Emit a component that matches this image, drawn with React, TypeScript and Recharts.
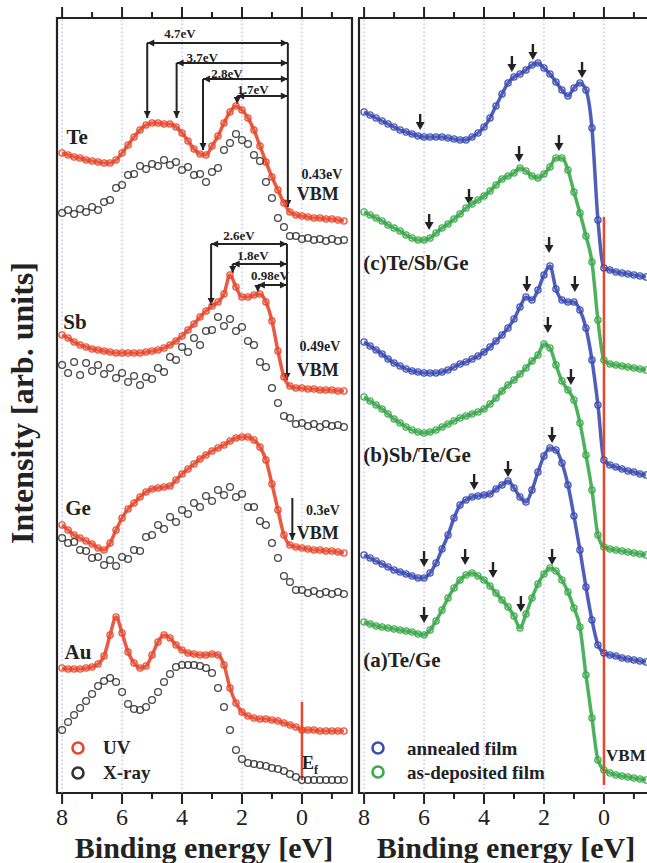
import {
  Legend,
  Line,
  LineChart,
  ReferenceArea,
  ReferenceDot,
  ReferenceLine,
  XAxis,
  YAxis,
} from 'recharts'

// binding energy grid (eV), shared by every spectrum
const ENERGY = [
  8, 7.8, 7.6, 7.4, 7.2, 7, 6.8, 6.6, 6.4, 6.2, 6, 5.8, 5.6, 5.4, 5.2, 5, 4.8, 4.6, 4.4, 4.2, 4, 3.8, 3.6, 3.4,
  3.2, 3, 2.8, 2.6, 2.4, 2.2, 2, 1.8, 1.6, 1.4, 1.2, 1, 0.8, 0.6, 0.4, 0.2, 0, -0.2, -0.4, -0.6, -0.8, -1, -1.2, -1.4,
]
const TICKS = [8, 7, 6, 5, 4, 3, 2, 1, 0, -1]
const GRID_E = [8, 6, 4, 2, 0]

// left panel: elemental references (intensity, arb. units, offset per element)
const TE_UV = [640,638,636,635,633,632,631,630,630,633,640,648,656,663,668,670,670,669,669,666,660,652,644,639,638,647,657,670,681,687,683,675,663,647,631,616,603,590,581,578,577,576,575,575,574,574,573,572]
const TE_XRAY = [580,583,579,584,581,586,583,591,593,605,608,618,619,627,624,629,627,633,628,631,623,626,618,619,611,621,625,643,650,659,653,649,638,632,611,595,575,566,557,557,554,555,553,554,552,554,552,553]
const SB_UV = [458,455,451,448,446,444,443,442,441,440,440,440,440,440,441,442,443,445,448,452,457,463,469,476,482,487,491,499,518,506,496,496,498,499,491,472,442,416,407,405,405,404,404,403,403,403,402,402]
const SB_XRAY = [428,420,431,418,430,422,428,419,425,415,420,411,417,408,416,414,425,421,436,433,446,441,455,448,462,463,476,467,474,462,466,452,448,431,426,405,390,377,375,369,370,367,369,366,369,367,368,366]
const GE_UV = [268,263,258,255,252,249,245,243,250,263,275,284,290,296,301,304,305,306,307,313,319,324,329,334,338,342,345,348,352,355,356,356,353,346,333,309,283,258,248,246,245,244,243,243,242,242,241,240]
const GE_XRAY = [255,250,251,243,242,235,236,228,233,227,236,234,243,242,256,258,268,264,276,271,283,279,290,286,297,292,303,298,306,296,299,286,286,272,268,250,235,217,211,203,203,200,202,199,201,199,201,199]
const AU_UV = [125,124,124,124,125,126,129,137,158,176,160,141,130,125,127,138,151,158,155,148,143,140,139,138,138,139,138,128,105,90,81,77,75,74,74,73,72,70,68,66,63,63,63,62,62,62,62,62]
const AU_XRAY = [63,71,78,85,92,99,107,112,115,111,101,89,84,83,86,93,101,111,119,126,128,128,128,127,125,120,105,86,63,43,34,30,29,28,27,25,24,22,19,16,13,13,13,13,13,13,13,13]

// right panel: stacked films, annealed vs as-deposited
const C_ANNEALED = [681,678,675,672,669,666,663,661,659,657,656,656,656,656,655,654,653,653,656,660,666,675,687,699,710,716,719,723,728,730,725,719,711,703,697,705,710,703,665,573,525,523,521,520,519,518,517,516]
const C_DEPOSITED = [581,578,575,572,568,565,562,558,555,553,553,555,560,565,569,574,579,585,589,593,597,602,608,614,617,620,625,622,617,615,619,626,635,635,623,601,580,557,531,473,433,429,428,427,426,425,424,423]
const B_ANNEALED = [451,447,443,439,434,430,427,424,422,421,420,420,420,421,423,426,429,431,434,437,441,446,452,458,465,474,486,496,493,503,518,527,504,493,491,491,483,465,433,388,333,328,326,324,322,321,319,318]
const B_DEPOSITED = [396,392,388,384,379,374,370,366,363,361,360,361,363,366,369,372,375,377,379,381,384,389,395,402,408,413,419,425,432,438,449,445,428,412,403,393,370,338,303,258,246,244,243,242,241,240,239,238]
const A_ANNEALED = [238,235,232,229,226,223,221,219,217,215,215,220,230,244,258,275,288,293,296,297,298,299,304,308,312,305,296,291,303,321,337,345,343,330,308,277,243,206,173,148,140,138,137,135,134,133,132,131]
const A_DEPOSITED = [171,169,167,166,165,164,163,162,161,159,158,163,172,183,195,205,213,218,220,217,213,207,200,193,186,177,165,179,195,209,219,225,222,213,201,185,166,118,75,33,23,20,18,17,16,15,14,13]

// annotations
const ELEMENT_NAMES = ['Te', 'Sb', 'Ge', 'Au']
const ELEMENT_TAG_E = [7.5, 7.57, 7.47, 7.47]
const ELEMENT_TAG_I = [656, 471, 285, 141]
const VBM_SHIFTS = ['0.43eV', '0.49eV', '0.3eV']
const VBM_SHIFT_E = [-0.67, -0.6, -0.7]
const VBM_SHIFT_I = [619, 447, 283]
const VBM_WORD_I = [599, 423, 260]

const TE_GAP_LABELS = ['4.7eV', '3.7eV', '2.8eV', '1.7eV']
const TE_GAP_FROM = [5.16, 4.18, 3.3, 2.16]
const TE_GAP_BAR = [750, 730, 714, 697]
const TE_GAP_TIP = [675, 675, 643, 689]
const TE_GAP_LABEL_E = [4.07, 3.33, 2.5, 1.63]
const TE_GAP_LABEL_I = [760, 736, 720, 704]
const TE_VBM = { e: 0.47, tip: 586 }

const SB_GAP_LABELS = ['2.6eV', '1.8eV', '0.98eV']
const SB_GAP_FROM = [3.03, 2.31, 1.47]
const SB_GAP_BAR = [549, 529, 508]
const SB_GAP_TIP = [488, 520, 501]
const SB_GAP_LABEL_E = [2.1, 1.63, 1.07]
const SB_GAP_LABEL_I = [558, 538, 518]
const SB_VBM = { e: 0.5, tip: 413 }
const GE_VBM = { e: 0.32, top: 295, tip: 253 }

const PANEL_TAGS = ['(c)Te/Sb/Ge', '(b)Sb/Te/Ge', '(a)Te/Ge']
const PANEL_TAG_I = [530, 338, 133]
const PEAK_ARROW_E = [6.13, 3.07, 2.37, 0.73, 5.83, 4.5, 2.83, 1.5, 2.57, 1.83, 0.97, 1.87, 1.1, 1.73, 4.33, 3.2, 6.0, 6.0, 4.63, 3.7, 2.77, 1.73]
const PEAK_ARROW_I = [663, 721, 733, 715, 563, 588, 631, 642, 501, 540, 501, 460, 408, 350, 303, 316, 226, 170, 228, 215, 181, 228]

const DOMAIN: [number, number] = [-1.67, 8.17]
const I_MAX = 775

const SERIF = '"Liberation Serif", "Times New Roman", serif'
const INK = '#222'
const RED = '#e8472c'
const GREY = '#333'
const BLUE = '#3b4db3'
const GREEN = '#3ba84a'
const GRID = '#a5a5dc'

const LEGEND_COLOR: Record<string, string> = {
  UV: RED,
  'X-ray': GREY,
  'annealed film': BLUE,
  'as-deposited film': GREEN,
}

const leftData = ENERGY.map((e, i) => ({
  e,
  teUV: TE_UV[i],
  teX: TE_XRAY[i],
  sbUV: SB_UV[i],
  sbX: SB_XRAY[i],
  geUV: GE_UV[i],
  geX: GE_XRAY[i],
  auUV: AU_UV[i],
  auX: AU_XRAY[i],
}))

const rightData = ENERGY.map((e, i) => ({
  e,
  cA: C_ANNEALED[i],
  cD: C_DEPOSITED[i],
  bA: B_ANNEALED[i],
  bD: B_DEPOSITED[i],
  aA: A_ANNEALED[i],
  aD: A_DEPOSITED[i],
}))

function EnergyTick({ x, y, payload, side }: any) {
  const v = payload.value
  const major = v >= 0 && v % 2 === 0
  const len = major ? 11 : 6
  if (side === 'top') {
    return <line x1={x} x2={x} y1={y} y2={y - len} stroke={INK} strokeWidth={2} />
  }
  return (
    <g>
      <line x1={x} x2={x} y1={y} y2={y + len} stroke={INK} strokeWidth={2} />
      {major && (
        <text x={x} y={y + 32} textAnchor="middle" fontSize={24} fontFamily={SERIF} fill={INK}>
          {v}
        </text>
      )}
    </g>
  )
}

function Tag({ cx, cy, text, size, anchor = 'middle' }: any) {
  if (cx == null || cy == null) return null
  return (
    <text
      x={cx}
      y={cy}
      dy="0.35em"
      textAnchor={anchor}
      fontSize={size}
      fontWeight="bold"
      fontFamily={SERIF}
      fill={INK}
    >
      {text}
    </text>
  )
}

function headPath(x: number, y: number, ang: number, len = 7, half = 3.5) {
  const bx = x - len * Math.cos(ang)
  const by = y - len * Math.sin(ang)
  const px = -Math.sin(ang) * half
  const py = Math.cos(ang) * half
  return `M${x},${y} L${bx + px},${by + py} L${bx - px},${by - py} Z`
}

function DimArrow({ x1, y1, x2, y2, both }: any) {
  if ([x1, y1, x2, y2].some((v) => v == null || Number.isNaN(v))) return null
  const ang = Math.atan2(y2 - y1, x2 - x1)
  return (
    <g>
      <line x1={x1} y1={y1} x2={x2} y2={y2} stroke={INK} strokeWidth={2} />
      <path d={headPath(x2, y2, ang)} fill={INK} />
      {both && <path d={headPath(x1, y1, ang + Math.PI)} fill={INK} />}
    </g>
  )
}

function DownArrow({ cx, cy }: any) {
  if (cx == null || cy == null) return null
  return (
    <g>
      <line x1={cx} x2={cx} y1={cy - 16} y2={cy - 6} stroke={INK} strokeWidth={2.4} />
      <path d={`M${cx - 4.5},${cy - 8} L${cx + 4.5},${cy - 8} L${cx},${cy} Z`} fill={INK} />
    </g>
  )
}

function SeriesLegend({ payload, rowHeight, markerWidth }: any) {
  const seen = new Set<string>()
  const items = (payload ?? []).filter((p: any) => {
    if (p.type === 'none' || seen.has(p.value)) return false
    seen.add(p.value)
    return true
  })
  return (
    <div style={{ fontFamily: SERIF, fontWeight: 'bold', fontSize: 19, color: INK }}>
      {items.map((entry: any) => (
        <div key={entry.value} style={{ display: 'flex', alignItems: 'center', height: rowHeight }}>
          <svg width={markerWidth} height={16}>
            <circle cx={8} cy={8} r={5.5} fill="none" stroke={LEGEND_COLOR[entry.value]} strokeWidth={2.6} />
          </svg>
          <span style={{ lineHeight: 1 }}>{entry.value}</span>
        </div>
      ))}
    </div>
  )
}

function spectrum(key: string, color: string, opts: { name?: string; sparse?: boolean; legend?: boolean }) {
  return (
    <Line
      key={key}
      dataKey={key}
      name={opts.name ?? key}
      type="monotone"
      stroke={opts.sparse ? 'transparent' : color}
      strokeWidth={3.5}
      strokeOpacity={0.9}
      dot={{ r: opts.sparse ? 3.4 : 3.1, stroke: color, strokeWidth: opts.sparse ? 1.3 : 1.4, fill: 'none' }}
      activeDot={false}
      legendType={opts.legend ? 'circle' : 'none'}
      isAnimationActive={false}
    />
  )
}

function axes() {
  return [
    <XAxis
      key="xb"
      dataKey="e"
      type="number"
      domain={DOMAIN}
      reversed
      allowDataOverflow
      ticks={TICKS}
      interval={0}
      height={70}
      axisLine={false}
      tickLine={false}
      tickSize={0}
      tickMargin={0}
      tick={(p: any) => <EnergyTick {...p} side="bottom" />}
    />,
    <XAxis
      key="xt"
      xAxisId="top"
      orientation="top"
      dataKey="e"
      type="number"
      domain={DOMAIN}
      reversed
      allowDataOverflow
      ticks={TICKS}
      interval={0}
      height={10}
      axisLine={false}
      tickLine={false}
      tickSize={0}
      tickMargin={0}
      tick={(p: any) => <EnergyTick {...p} side="top" />}
    />,
    <YAxis key="y" hide type="number" domain={[0, I_MAX]} allowDataOverflow />,
    ...GRID_E.map((g) => (
      <ReferenceLine key={`g${g}`} x={g} stroke={GRID} strokeWidth={1} strokeDasharray="1.5 2.5" />
    )),
    <ReferenceArea
      key="frame"
      x1={DOMAIN[0]}
      x2={DOMAIN[1]}
      y1={0}
      y2={I_MAX}
      fill="none"
      fillOpacity={0}
      stroke={INK}
      strokeWidth={2.2}
    />,
  ]
}

function tag(key: string, text: string, e: number, i: number, size: number, anchor = 'middle') {
  return (
    <ReferenceDot
      key={key}
      x={e}
      y={i}
      r={1}
      ifOverflow="visible"
      shape={(p: any) => <Tag {...p} text={text} size={size} anchor={anchor} />}
    />
  )
}

function dim(key: string, from: [number, number], to: [number, number], both = false) {
  return (
    <ReferenceLine
      key={key}
      segment={[
        { x: from[0], y: from[1] },
        { x: to[0], y: to[1] },
      ]}
      ifOverflow="visible"
      shape={(p: any) => <DimArrow {...p} both={both} />}
    />
  )
}

const CHART_MARGIN = { top: 8, right: 8, bottom: 0, left: 57 }

function ElementPanel() {
  return (
    <LineChart width={360} height={863} data={leftData} margin={CHART_MARGIN}>
      {axes()}
      {spectrum('teUV', RED, { name: 'UV', legend: true })}
      {spectrum('teX', GREY, { name: 'X-ray', sparse: true, legend: true })}
      {spectrum('sbUV', RED, {})}
      {spectrum('sbX', GREY, { sparse: true })}
      {spectrum('geUV', RED, {})}
      {spectrum('geX', GREY, { sparse: true })}
      {spectrum('auUV', RED, {})}
      {spectrum('auX', GREY, { sparse: true })}
      <ReferenceLine
        segment={[
          { x: 0, y: 91 },
          { x: 0, y: 13 },
        ]}
        stroke={RED}
        strokeWidth={2.5}
      />
      {ELEMENT_NAMES.map((n, i) => tag(`el${n}`, n, ELEMENT_TAG_E[i], ELEMENT_TAG_I[i], 21))}
      {VBM_SHIFTS.map((s, i) => tag(`vs${i}`, s, VBM_SHIFT_E[i], VBM_SHIFT_I[i], 14))}
      {VBM_WORD_I.map((v, i) => tag(`vw${i}`, 'VBM', -0.53, v, 18))}
      {TE_GAP_LABELS.map((l, i) => [
        dim(`teh${i}`, [TE_GAP_FROM[i], TE_GAP_BAR[i]], [TE_VBM.e, TE_GAP_BAR[i]], true),
        dim(`tev${i}`, [TE_GAP_FROM[i], TE_GAP_BAR[i]], [TE_GAP_FROM[i], TE_GAP_TIP[i]]),
        tag(`tel${i}`, l, TE_GAP_LABEL_E[i], TE_GAP_LABEL_I[i], 13),
      ])}
      {dim('tevbm', [TE_VBM.e, TE_GAP_BAR[0]], [TE_VBM.e, TE_VBM.tip])}
      {SB_GAP_LABELS.map((l, i) => [
        dim(`sbh${i}`, [SB_GAP_FROM[i], SB_GAP_BAR[i]], [SB_VBM.e, SB_GAP_BAR[i]], true),
        dim(`sbv${i}`, [SB_GAP_FROM[i], SB_GAP_BAR[i]], [SB_GAP_FROM[i], SB_GAP_TIP[i]]),
        tag(`sbl${i}`, l, SB_GAP_LABEL_E[i], SB_GAP_LABEL_I[i], 13),
      ])}
      {dim('sbvbm', [SB_VBM.e, SB_GAP_BAR[0]], [SB_VBM.e, SB_VBM.tip])}
      {dim('gevbm', [GE_VBM.e, GE_VBM.top], [GE_VBM.e, GE_VBM.tip])}
      <ReferenceDot
        x={-0.27}
        y={30}
        r={1}
        ifOverflow="visible"
        shape={(p: any) => (
          <text x={p.cx} y={p.cy} dy="0.35em" textAnchor="middle" fontSize={18} fontWeight="bold" fontFamily={SERIF} fill={INK}>
            E<tspan fontSize={12} dy={5}>f</tspan>
          </text>
        )}
      />
      <Legend
        layout="vertical"
        align="center"
        verticalAlign="middle"
        wrapperStyle={{ left: 70, top: 735, width: 'auto' }}
        content={(p: any) => <SeriesLegend {...p} rowHeight={25} markerWidth={33} />}
      />
    </LineChart>
  )
}

function FilmPanel() {
  return (
    <LineChart width={360} height={863} data={rightData} margin={CHART_MARGIN}>
      {axes()}
      {spectrum('cA', BLUE, { name: 'annealed film', legend: true })}
      {spectrum('cD', GREEN, { name: 'as-deposited film', legend: true })}
      {spectrum('bA', BLUE, {})}
      {spectrum('bD', GREEN, {})}
      {spectrum('aA', BLUE, {})}
      {spectrum('aD', GREEN, {})}
      <ReferenceLine
        segment={[
          { x: 0, y: 576 },
          { x: 0, y: 8 },
        ]}
        stroke={RED}
        strokeWidth={2.5}
      />
      {PANEL_TAGS.map((t, i) => tag(`pt${i}`, t, 8.03, PANEL_TAG_I[i], 21, 'start'))}
      {PEAK_ARROW_E.map((e, i) => (
        <ReferenceDot key={`pa${i}`} x={e} y={PEAK_ARROW_I[i]} r={1} ifOverflow="visible" shape={DownArrow} />
      ))}
      {tag('vbm', 'VBM', -0.07, 38, 17, 'start')}
      <Legend
        layout="vertical"
        align="center"
        verticalAlign="middle"
        wrapperStyle={{ left: 68, top: 736, width: 'auto' }}
        content={(p: any) => <SeriesLegend {...p} rowHeight={24} markerWidth={37} />}
      />
    </LineChart>
  )
}

const titleStyle = {
  position: 'absolute' as const,
  fontFamily: SERIF,
  fontWeight: 'bold' as const,
  fontSize: 30,
  lineHeight: '30px',
  color: INK,
  whiteSpace: 'nowrap' as const,
  textAlign: 'center' as const,
}

export default function App() {
  return (
    <div
      style={{
        position: 'absolute',
        left: 0,
        top: 0,
        width: 647,
        height: 863,
        overflow: 'hidden',
        background: '#fff',
      }}
    >
      <div style={{ position: 'absolute', left: 0, top: 0 }}>
        <ElementPanel />
      </div>
      <div style={{ position: 'absolute', left: 302, top: 0 }}>
        <FilmPanel />
      </div>
      <div style={{ ...titleStyle, left: 204 - 160, top: 833, width: 320 }}>Binding energy [eV]</div>
      <div style={{ ...titleStyle, left: 506 - 160, top: 833, width: 320 }}>Binding energy [eV]</div>
      <div
        style={{
          ...titleStyle,
          fontSize: 32,
          lineHeight: '34px',
          left: 22 - 200,
          top: 403 - 17,
          width: 400,
          height: 34,
          transform: 'rotate(-90deg)',
        }}
      >
        Intensity [arb. units]
      </div>
    </div>
  )
}
